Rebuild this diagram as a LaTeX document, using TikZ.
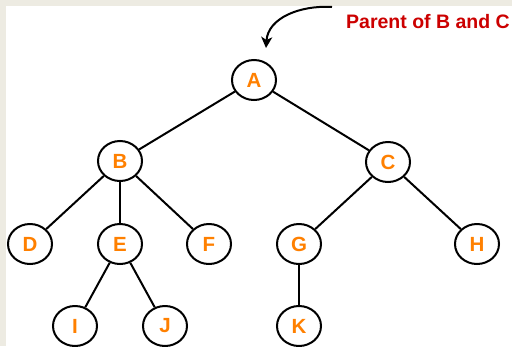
\documentclass[tikz,border=0pt]{standalone}
\usepackage{fontspec}
\setmainfont{Liberation Sans}
\usetikzlibrary{shapes.geometric,arrows.meta}
\definecolor{bordercol}{RGB}{237,235,226}
\definecolor{nodeorange}{RGB}{255,128,0}
\definecolor{labelred}{RGB}{204,0,0}
\tikzset{
  treenode/.style={ellipse, draw=black, line width=2pt, fill=white,
    minimum width=44pt, minimum height=40pt, inner sep=0pt,
    text=nodeorange, font=\bfseries\fontsize{20.5}{20.5}\selectfont},
  edge/.style={draw=black, line width=2pt},
  annot/.style={text=labelred, font=\bfseries\fontsize{19.5}{19.5}\selectfont, inner sep=0pt, anchor=base west}
}
\begin{document}
\begin{tikzpicture}[x=1pt,y=-1pt]
\useasboundingbox (0,0) rectangle (512,346);
\fill[bordercol] (0,0) rectangle (512,346);
\fill[white] (6,6) rectangle (512,346);
\node[treenode] (A) at (254,80) {A};
\node[treenode] (B) at (120,161) {B};
\node[treenode] (C) at (388,162) {C};
\node[treenode] (D) at (30,244) {D};
\node[treenode] (E) at (120,244) {E};
\node[treenode] (F) at (209,244) {F};
\node[treenode] (G) at (299,244) {G};
\node[treenode] (H) at (477,244) {H};
\node[treenode] (I) at (75,326) {I};
\node[treenode] (J) at (165,326) {J};
\node[treenode] (K) at (299,326) {K};
\draw[edge] (A) -- (B);
\draw[edge] (A) -- (C);
\draw[edge] (B) -- (D);
\draw[edge] (B) -- (E);
\draw[edge] (B) -- (F);
\draw[edge] (C) -- (G);
\draw[edge] (C) -- (H);
\draw[edge] (E) -- (I);
\draw[edge] (E) -- (J);
\draw[edge] (G) -- (K);
\node[annot] (lbl) at (346,28) {Parent of B and C};
\coordinate (arrstart) at (332,7);
\coordinate (arrtip) at (266,48);
\draw[line width=2pt, -{Stealth[length=11pt,width=11pt,inset=3pt]}] (arrstart) .. controls (300,5) and (268,18) .. (arrtip);
\end{tikzpicture}
\end{document}
